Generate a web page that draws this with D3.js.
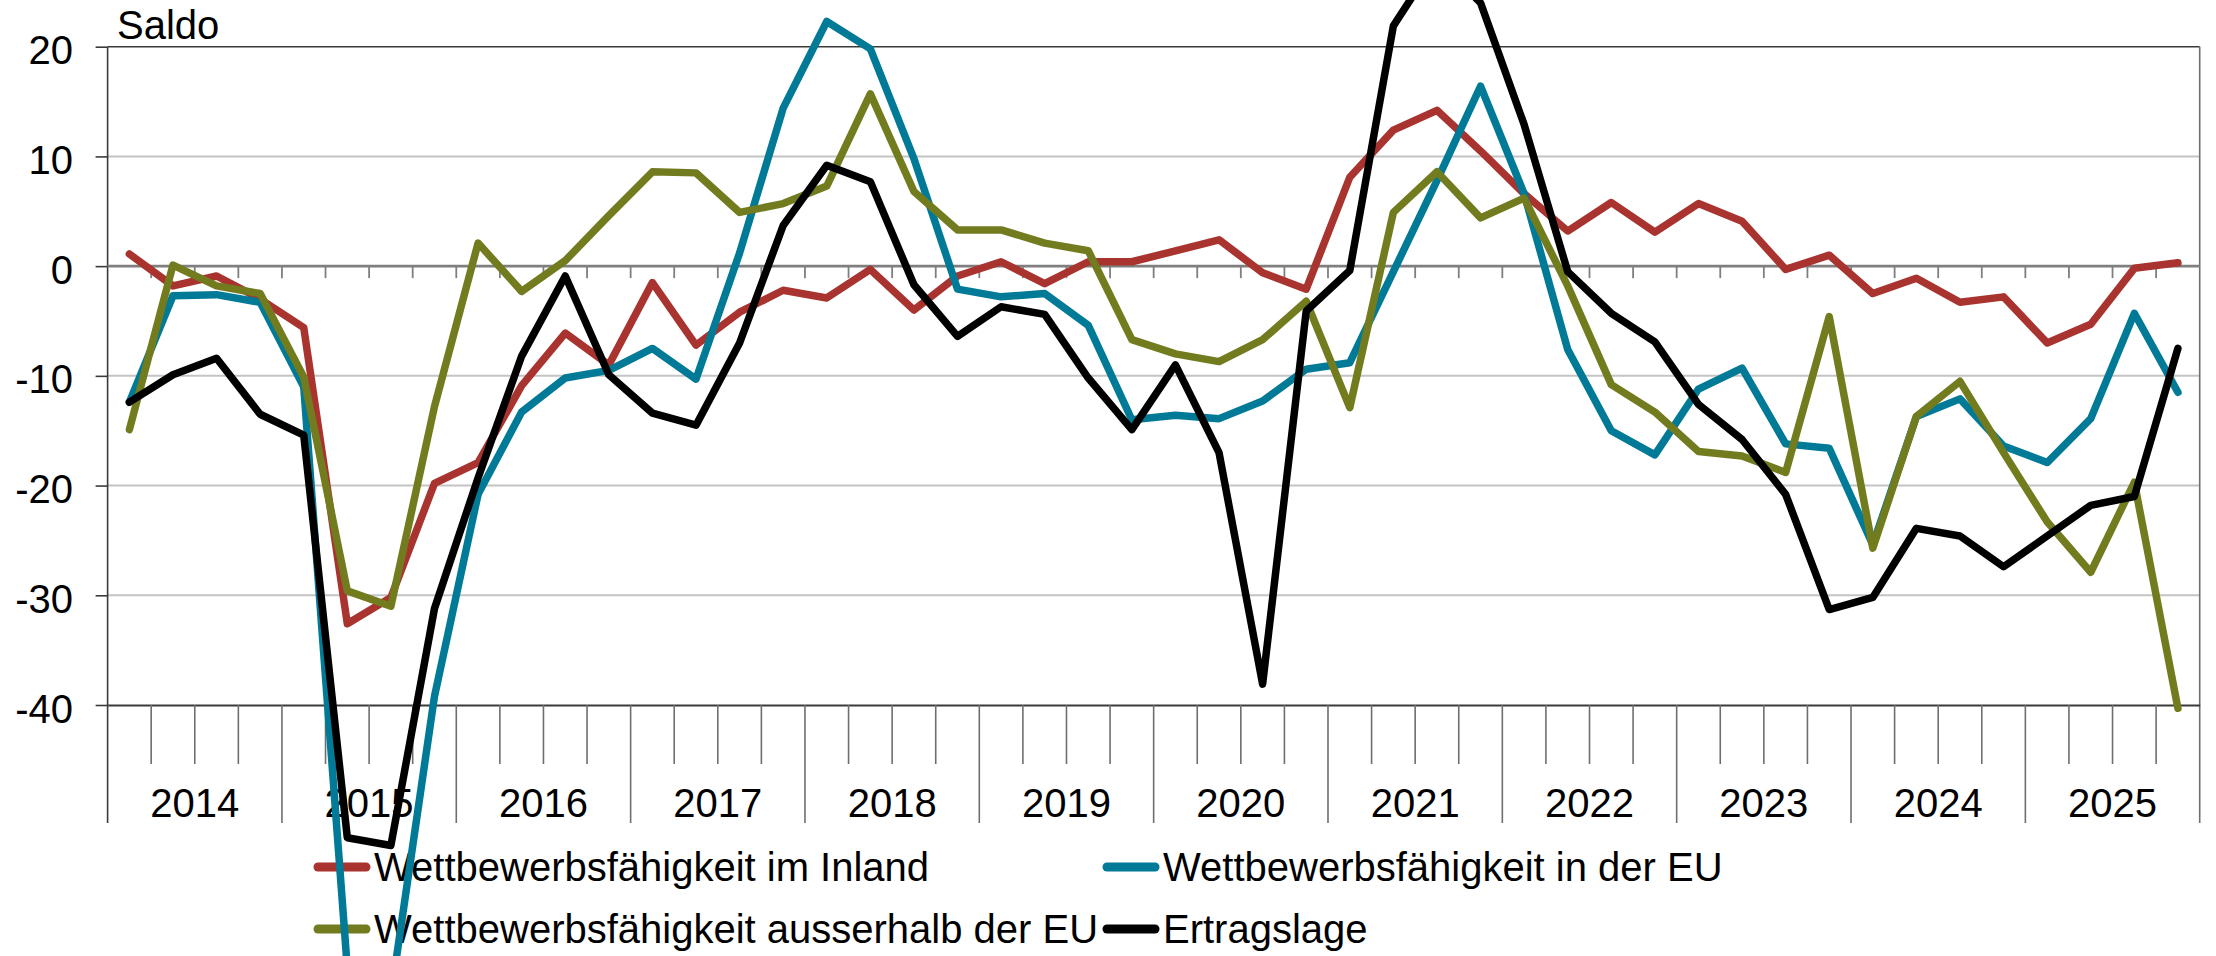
<!DOCTYPE html>
<html>
<head>
<meta charset="utf-8">
<script src="https://cdn.jsdelivr.net/npm/d3@7"></script>
<style>
  html, body { margin: 0; padding: 0; background: #ffffff; }
  svg { display: block; }
  text { font-family: "Liberation Sans", Arial, sans-serif; fill: #000; }
</style>
</head>
<body>
<svg id="chart" width="2216" height="956"></svg>
<script>
// ---------- data ----------
const years = [2014, 2015, 2016, 2017, 2018, 2019, 2020, 2021, 2022, 2023, 2024, 2025];
const quarters = years.flatMap(y => [1, 2, 3, 4].map(q => y + "Q" + q));

const inland = [1.1, -1.8, -0.9, -3.0, -5.6, -32.6, -30.2, -19.8, -17.9, -10.9, -6.1, -9.0,
  -1.5, -7.2, -4.2, -2.2, -2.9, -0.3, -4.0, -0.9, 0.4, -1.6, 0.4, 0.4,
  1.4, 2.4, -0.6, -2.1, 8.1, 12.4, 14.2, 10.5, 6.6, 3.2, 5.8, 3.1,
  5.7, 4.1, -0.3, 1.0, -2.5, -1.1, -3.3, -2.8, -7.0, -5.3, -0.2, 0.3];
const eu = [-12.4, -2.7, -2.6, -3.3, -11.0, -64.0, -66.5, -39.2, -20.8, -13.3, -10.2, -9.5,
  -7.5, -10.3, 1.2, 14.4, 22.3, 19.8, 9.8, -2.1, -2.8, -2.5, -5.4, -14.0,
  -13.6, -13.9, -12.3, -9.4, -8.8, -0.5, 7.8, 16.4, 6.6, -7.6, -15.0, -17.2,
  -11.2, -9.3, -16.2, -16.6, -25.4, -13.7, -12.1, -16.4, -17.9, -13.9, -4.3, -11.5];
const ausserhalb = [-14.9, 0.1, -1.8, -2.5, -10.1, -29.6, -31.0, -12.8, 2.1, -2.3, 0.5, 4.6,
  8.6, 8.5, 4.9, 5.7, 7.3, 15.7, 6.8, 3.3, 3.3, 2.1, 1.4, -6.7,
  -8.0, -8.7, -6.7, -3.2, -12.9, 4.9, 8.6, 4.4, 6.2, -1.8, -10.8, -13.3,
  -16.9, -17.3, -18.8, -4.6, -25.7, -13.7, -10.5, -17.0, -23.3, -27.9, -19.7, -40.3];
const ertragslage = [-12.4, -9.9, -8.4, -13.5, -15.4, -52.1, -52.8, -31.2, -19.3, -8.2, -0.9, -9.9,
  -13.4, -14.5, -7.0, 3.7, 9.2, 7.7, -1.7, -6.4, -3.7, -4.4, -10.2, -14.9,
  -9.0, -17.0, -38.1, -4.1, -0.4, 21.9, 28.0, 24.0, 12.9, -0.5, -4.3, -6.9,
  -12.6, -15.8, -20.8, -31.3, -30.2, -23.9, -24.6, -27.4, -24.6, -21.8, -21.0, -7.5];

const yTicks = [20, 10, 0, -10, -20, -30, -40];
const seriesNames = ["Wettbewerbsfähigkeit im Inland", "Wettbewerbsfähigkeit in der EU",
  "Wettbewerbsfähigkeit ausserhalb der EU", "Ertragslage"];
const seriesColors = ["#A8332F", "#007A96", "#737B1F", "#000000"];
const seriesValues = [inland, eu, ausserhalb, ertragslage];
const yTitle = "Saldo";

// ---------- layout ----------
const svg = d3.select("#chart");
const plotLeft = 107.6, plotRight = 2199.7;
const yTop = 46.7, yBottom = 705;

const x = d3.scaleBand().domain(quarters).range([plotLeft, plotRight]).padding(0);
const y = d3.scaleLinear().domain([-40, 20]).range([yBottom, yTop]);
const bw = x.bandwidth();
const cx = q => x(q) + bw / 2;

// gridlines
const gGrid = svg.append("g");
gGrid.selectAll("line.grid")
  .data(yTicks.filter(t => t !== 0 && t !== 20 && t !== -40))
  .join("line")
  .attr("x1", plotLeft).attr("x2", plotRight)
  .attr("y1", d => y(d)).attr("y2", d => y(d))
  .attr("stroke", "#c4c4c4").attr("stroke-width", 2);

// top border
svg.append("line").attr("x1", plotLeft).attr("x2", plotRight)
  .attr("y1", y(20)).attr("y2", y(20)).attr("stroke", "#3a3a3a").attr("stroke-width", 1.6);

// right border, extends to year separator depth
const sepBottom = 823, qTickBottom = 764;
svg.append("line").attr("x1", plotRight).attr("x2", plotRight)
  .attr("y1", y(20)).attr("y2", sepBottom).attr("stroke", "#707070").attr("stroke-width", 1.6);

// y axis (left) with outward ticks
const yAxis = d3.axisLeft(y).tickValues(yTicks).tickSize(12).tickFormat(d => String(d));
const gY = svg.append("g").attr("transform", `translate(${plotLeft},0)`).call(yAxis);
gY.select(".domain").remove();
gY.selectAll(".tick line").attr("stroke", "#3a3a3a").attr("stroke-width", 1.6);
gY.selectAll(".tick text").attr("x", -34.6).attr("dy", null).attr("dominant-baseline", null)
  .attr("y", 17).style("font-size", "40px").style("font-family", "'Liberation Sans', Arial, sans-serif")
  .attr("fill", "#000");
svg.append("line").attr("x1", plotLeft).attr("x2", plotLeft)
  .attr("y1", y(20)).attr("y2", sepBottom).attr("stroke", "#3a3a3a").attr("stroke-width", 1.6);

// zero line with short ticks
const boundaries = quarters.map(q => x(q)).concat([plotRight]);
svg.append("line").attr("x1", plotLeft).attr("x2", plotRight)
  .attr("y1", y(0)).attr("y2", y(0)).attr("stroke", "#7f7f7f").attr("stroke-width", 2.6);
svg.append("g").selectAll("line")
  .data(boundaries.slice(1, -1))
  .join("line")
  .attr("x1", d => d).attr("x2", d => d)
  .attr("y1", y(0)).attr("y2", y(0) + 12)
  .attr("stroke", "#7f7f7f").attr("stroke-width", 1.8);

// bottom axis at -40 with quarter ticks and year separators
const xAxis = d3.axisBottom(x).tickSize(0).tickFormat("");
const gX = svg.append("g").attr("transform", `translate(0,${yBottom})`).call(xAxis);
gX.select(".domain").attr("stroke", "#3a3a3a").attr("stroke-width", 1.8);
svg.append("g").selectAll("line")
  .data(quarters.map((q, i) => ({ x: x(q), yearStart: i % 4 === 0 })).slice(1))
  .join("line")
  .attr("x1", d => d.x).attr("x2", d => d.x)
  .attr("y1", yBottom).attr("y2", d => d.yearStart ? sepBottom : qTickBottom)
  .attr("stroke", "#6e6e6e").attr("stroke-width", 1.6);

// year labels
svg.append("g").selectAll("text")
  .data(years)
  .join("text")
  .attr("x", d => x(d + "Q1") + 2 * bw)
  .attr("y", 817)
  .attr("text-anchor", "middle")
  .style("font-size", "40px")
  .text(d => d);

// y title
svg.append("text").attr("x", 117).attr("y", 39).style("font-size", "40px").text(yTitle);

// legend
const legendPos = [
  { lx: 314, ly: 867, ty: 881 },
  { lx: 1103, ly: 867, ty: 881 },
  { lx: 314, ly: 929, ty: 943 },
  { lx: 1103, ly: 929, ty: 943 }
];
const gLeg = svg.append("g");
seriesNames.forEach((name, i) => {
  const p = legendPos[i];
  gLeg.append("line").attr("x1", p.lx + 4).attr("x2", p.lx + 52)
    .attr("y1", p.ly).attr("y2", p.ly)
    .attr("stroke", seriesColors[i]).attr("stroke-width", 9).attr("stroke-linecap", "round");
  gLeg.append("text").attr("x", p.lx + 60).attr("y", p.ty)
    .style("font-size", "40px").text(name);
});

// series lines (drawn on top, not clipped)
const line = d3.line().x((d, i) => cx(quarters[i])).y(d => y(d));
svg.append("g").selectAll("path")
  .data(seriesValues)
  .join("path")
  .attr("d", d => line(d))
  .attr("fill", "none")
  .attr("stroke", (d, i) => seriesColors[i])
  .attr("stroke-width", 7.5)
  .attr("stroke-linejoin", "round")
  .attr("stroke-linecap", "round");
</script>
</body>
</html>
